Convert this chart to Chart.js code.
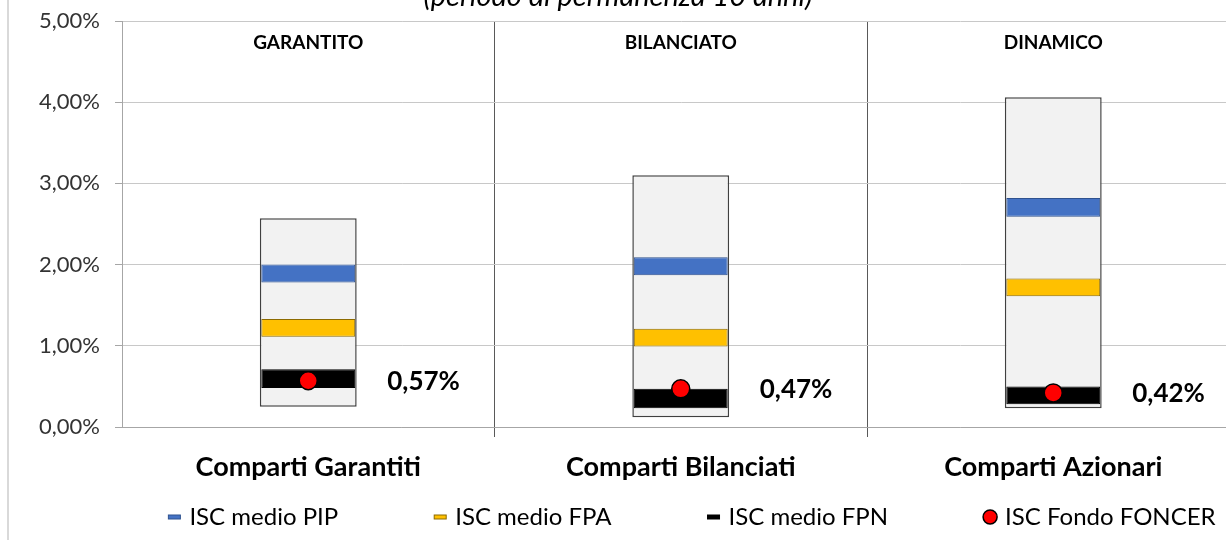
<!DOCTYPE html>
<html>
<head>
<meta charset="utf-8">
<script src="https://cdn.jsdelivr.net/npm/chart.js@4.4.1/dist/chart.umd.min.js"></script>
<style>
  html, body { margin: 0; padding: 0; background: #fff; overflow: hidden; }
  #wrap { position: relative; width: 1250px; height: 540px; }
</style>
</head>
<body>
<div id="wrap"><canvas id="iscChart"></canvas></div>
<script>
// dati (valori in %)
const categories = ['Comparti Garantiti', 'Comparti Bilanciati', 'Comparti Azionari'];
const topLabels = ['GARANTITO', 'BILANCIATO', 'DINAMICO'];
const rangeIsc = [[0.25, 2.57], [0.12, 3.10], [0.23, 4.06]];
const iscPip = [[1.78, 2.00], [1.87, 2.09], [2.59, 2.82]];
const iscFpa = [[1.11, 1.33], [0.99, 1.21], [1.61, 1.83]];
const iscFpn = [[0.48, 0.71], [0.23, 0.47], [0.28, 0.50]];
const iscFoncer = [0.57, 0.47, 0.42];
const yTicks = [0, 1, 2, 3, 4, 5];
const titleText = '(periodo di permanenza 10 anni)';

const FONT = 'Lato';
const fmt = v => v.toFixed(2).replace('.', ',') + '%';

// titolo, scritte sui box e legenda
const extraText = {
    id: 'extraText',
    beforeDraw(chart) {
        const ctx = chart.ctx;
        ctx.save();
        // bordo sinistro del riquadro
        ctx.strokeStyle = '#d9d9d9';
        ctx.lineWidth = 2;
        ctx.beginPath();
        ctx.moveTo(8, 0);
        ctx.lineTo(8, chart.height);
        ctx.stroke();
        // titolo tagliato in alto
        ctx.fillStyle = '#000';
        ctx.font = 'italic 29px ' + FONT;
        ctx.textAlign = 'center';
        ctx.textBaseline = 'alphabetic';
        ctx.fillText(titleText, 618, 6);
        ctx.restore();
    },
    afterDatasetsDraw(chart) {
        const { ctx, chartArea, scales: { x } } = chart;
        ctx.save();
        ctx.fillStyle = '#000';
        ctx.textAlign = 'center';
        ctx.textBaseline = 'middle';
        ctx.font = 'bold 19px ' + FONT;
        topLabels.forEach((t, i) => ctx.fillText(t, x.getPixelForValue(i), chartArea.top + 22));

        const meta = chart.getDatasetMeta(3);
        ctx.font = 'bold 26px ' + FONT;
        ctx.textAlign = 'left';
        meta.data.forEach((pt, i) => ctx.fillText(fmt(iscFoncer[i]), pt.x + 79, pt.y + 1));
        ctx.restore();
    },
    afterDraw(chart) {
        // legenda in basso
        const ctx = chart.ctx;
        const items = chart.data.datasets.slice(0, 4);
        const gapText = 15, gapItem = 102, y = 517;
        ctx.save();
        ctx.font = '24px ' + FONT;
        ctx.textBaseline = 'middle';
        ctx.textAlign = 'left';
        const widths = items.map(ds => ctx.measureText(ds.label).width);
        const total = widths.reduce((a, w) => a + gapText + w, 0) + gapItem * (items.length - 1) + 6;
        let cx = 692 - total / 2 + 6;
        items.forEach((ds, i) => {
            if (ds.type === 'line') {
                ctx.beginPath();
                ctx.arc(cx, y, 7, 0, Math.PI * 2);
                ctx.fillStyle = ds.backgroundColor;
                ctx.fill();
                ctx.lineWidth = 1.5;
                ctx.strokeStyle = ds.borderColor;
                ctx.stroke();
            } else {
                ctx.fillStyle = ds.backgroundColor;
                ctx.fillRect(cx - 6, y - 2, 12, 4);
                ctx.lineWidth = 1;
                ctx.strokeStyle = ds.borderColor;
                ctx.strokeRect(cx - 6, y - 2, 12, 4);
            }
            ctx.fillStyle = '#000';
            ctx.fillText(ds.label, cx + gapText, y);
            cx += gapText + widths[i] + gapItem;
        });
        ctx.restore();
    }
};

const ctx = document.getElementById('iscChart').getContext('2d');
const chart = new Chart(ctx, {
    type: 'bar',
    data: {
        labels: categories,
        datasets: [{
            label: 'ISC medio PIP',
            data: iscPip,
            backgroundColor: '#4472C4',
            borderColor: '#2F528F',
            borderWidth: 1,
            borderSkipped: false,
            barPercentage: 0.252,
            categoryPercentage: 1,
            grouped: false,
            order: 1
        }, {
            label: 'ISC medio FPA',
            data: iscFpa,
            backgroundColor: '#FFC000',
            borderColor: '#8C6A00',
            borderWidth: 1,
            borderSkipped: false,
            barPercentage: 0.252,
            categoryPercentage: 1,
            grouped: false,
            order: 1
        }, {
            label: 'ISC medio FPN',
            data: iscFpn,
            backgroundColor: '#000000',
            borderColor: '#000000',
            borderWidth: 1,
            borderSkipped: false,
            barPercentage: 0.252,
            categoryPercentage: 1,
            grouped: false,
            order: 1
        }, {
            type: 'line',
            label: 'ISC Fondo FONCER',
            data: iscFoncer,
            showLine: false,
            pointRadius: 9,
            pointHoverRadius: 9,
            backgroundColor: '#FF0000',
            borderColor: '#000000',
            borderWidth: 1.5,
            order: 0
        }, {
            label: 'range',
            data: rangeIsc,
            backgroundColor: '#F2F2F2',
            borderColor: '#404040',
            borderWidth: 1.5,
            borderSkipped: false,
            barPercentage: 0.26,
            categoryPercentage: 1,
            grouped: false,
            order: 5
        }]
    },
    options: {
        responsive: true,
        maintainAspectRatio: false,
        animation: false,
        layout: { padding: { top: 21, right: 9, left: 0, bottom: 44 } },
        scales: {
            x: {
                grid: {
                    offset: true,
                    color: c => c.index === 0 ? 'rgba(0,0,0,0)' : '#595959',
                    tickLength: 10
                },
                border: { color: '#a6a6a6' },
                ticks: {
                    color: '#000',
                    padding: 14,
                    font: { family: FONT, size: 27, weight: 'bold' }
                },
                afterFit: s => { s.height = 69; }
            },
            y: {
                min: 0,
                max: 5,
                afterBuildTicks: s => { s.ticks = yTicks.map(v => ({ value: v })); },
                grid: { color: '#c8c8c8', tickLength: 7, tickColor: '#a6a6a6' },
                border: { color: '#a6a6a6' },
                ticks: {
                    color: '#333',
                    padding: 15,
                    font: { family: FONT, size: 22 },
                    callback: v => fmt(v)
                },
                afterFit: s => { s.width = 122; s.paddingTop = 0; s.paddingBottom = 0; }
            }
        },
        plugins: {
            tooltip: { enabled: false },
            legend: { display: false }
        }
    },
    plugins: [extraText]
});
</script>
</body>
</html>
